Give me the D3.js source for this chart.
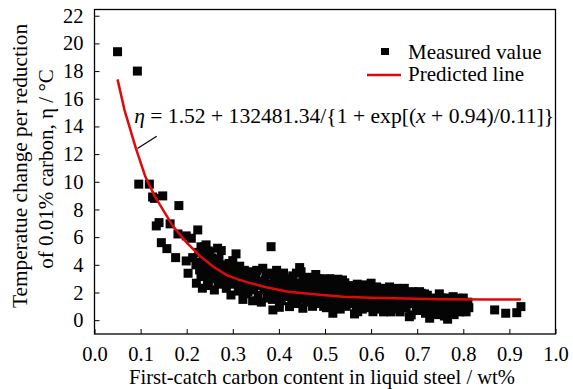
<!DOCTYPE html>
<html>
<head>
<meta charset="utf-8">
<script src="https://cdn.jsdelivr.net/npm/d3@7/dist/d3.min.js"></script>
<style>
  html, body { margin: 0; padding: 0; background: #fff; }
</style>
</head>
<body>
<svg id="chart" width="573" height="389"></svg>
<script>
// ---- data ----
const xTicks = [0.0, 0.1, 0.2, 0.3, 0.4, 0.5, 0.6, 0.7, 0.8, 0.9, 1.0];
const yTicks = [0, 2, 4, 6, 8, 10, 12, 14, 16, 18, 20, 22];
const xTitle = "First-catch carbon content in liquid steel / wt%";
const yTitle1 = "Temperatue change per reduction";
const yTitle2 = "of 0.01% carbon, η / °C";
const legendLabels = ["Measured value", "Predicted line"];

// predicted line
const predicted = [
  [0.050,17.4],[0.065,15.2],[0.090,12.4],[0.110,10.4],[0.130,9.0],[0.150,7.9],
  [0.170,6.8],[0.200,5.6],[0.230,4.6],[0.260,3.8],[0.290,3.2],[0.330,2.75],
  [0.370,2.4],[0.420,2.05],[0.488,1.83],[0.540,1.7],[0.600,1.62],[0.676,1.56],
  [0.750,1.52],[0.850,1.5],[0.925,1.49]
];

const measured = [
  [0.050,19.4],[0.093,18.0],[0.096,9.83],[0.119,9.83],[0.130,8.8],[0.148,8.98],[0.126,8.9],
  [0.183,8.28],[0.134,6.81],[0.140,7.05],[0.164,6.96],[0.181,6.23],[0.199,6.09],[0.210,5.92],
  [0.224,6.52],[0.145,5.6],[0.157,5.17],[0.176,4.52],[0.199,4.28],[0.203,3.39],[0.213,4.52],
  [0.231,5.3],[0.221,2.67],[0.234,2.31],[0.228,3.63],[0.231,3.15],[0.220,4.0],[0.226,4.9],
  [0.242,5.44],[0.239,5.3],[0.250,4.9],[0.255,4.5],[0.245,4.1],[0.240,3.7],[0.250,3.3],
  [0.245,2.9],[0.260,2.18],[0.258,3.9],[0.267,5.2],[0.275,5.03],[0.270,4.4],[0.265,3.5],
  [0.278,3.0],[0.286,2.3],[0.296,1.82],[0.285,4.0],[0.290,3.6],[0.300,4.3],[0.307,4.79],
  [0.295,2.8],[0.310,3.2],[0.315,3.9],[0.320,2.5],[0.325,3.6],[0.329,1.9],[0.333,2.06],
  [0.335,3.0],[0.340,3.5],[0.345,2.4],[0.350,3.2],[0.355,1.8],[0.360,2.8],[0.365,3.75],
  [0.368,2.2],[0.372,3.3],[0.375,1.6],[0.380,2.6],[0.383,5.31],[0.387,0.74],[0.390,3.0],
  [0.392,1.9],[0.395,3.6],[0.398,2.4],[0.401,0.93],[0.405,1.4],[0.408,2.8],[0.410,3.4],
  [0.413,1.7],[0.415,2.2],[0.418,3.0],[0.423,0.98],[0.425,2.5],[0.428,1.5],[0.430,3.2],
  [0.433,2.0],[0.436,2.7],[0.440,1.2],[0.445,3.8],[0.448,3.5],[0.450,2.3],[0.452,0.86],
  [0.455,1.7],[0.458,2.9],[0.460,1.3],[0.463,2.5],[0.466,3.1],[0.468,1.9],[0.470,2.2],
  [0.473,1.0],[0.475,2.7],[0.478,1.5],[0.480,3.3],[0.483,2.0],[0.486,2.5],[0.488,1.2],
  [0.490,3.0],[0.493,1.7],[0.495,2.9],[0.498,2.2],[0.500,1.4],[0.503,0.9],[0.505,2.6],
  [0.508,1.9],[0.510,3.0],[0.513,1.1],[0.517,0.5],[0.517,2.3],[0.520,1.6],[0.523,2.8],
  [0.526,1.3],[0.528,2.96],[0.530,2.0],[0.533,0.8],[0.536,2.4],[0.540,1.5],[0.543,2.7],
  [0.546,1.0],[0.550,2.2],[0.553,1.7],[0.556,2.5],[0.560,1.2],[0.564,0.45],[0.566,2.0],
  [0.570,2.6],[0.571,0.61],[0.574,1.5],[0.578,2.2],[0.582,2.55],[0.585,1.1],[0.588,1.8],
  [0.592,2.4],[0.595,0.9],[0.598,1.4],[0.600,2.67],[0.604,0.61],[0.607,2.0],[0.610,1.2],
  [0.614,1.7],[0.618,2.18],[0.621,0.8],[0.625,1.5],[0.628,2.3],[0.632,1.0],[0.636,1.9],
  [0.640,2.4],[0.643,0.6],[0.646,1.4],[0.650,2.0],[0.653,1.1],[0.657,1.7],[0.660,0.8],
  [0.664,2.2],[0.667,1.3],[0.669,2.23],[0.672,2.3],[0.676,0.9],[0.679,1.6],[0.683,0.25],
  [0.687,0.38],[0.690,2.06],[0.693,1.2],[0.697,1.8],[0.700,0.7],[0.705,2.06],[0.709,1.94],
  [0.712,1.0],[0.715,1.5],[0.718,0.5],[0.722,1.8],[0.725,1.2],[0.727,0.14],[0.730,0.8],
  [0.734,1.6],[0.738,1.0],[0.742,0.4],[0.745,1.4],[0.748,1.9],[0.752,0.7],[0.755,1.2],
  [0.759,0.3],[0.762,1.6],[0.766,0.07],[0.768,1.0],[0.772,1.3],[0.775,0.5],[0.778,1.7],
  [0.782,0.9],[0.785,1.2],[0.788,1.58],[0.792,0.6],[0.795,1.0],[0.798,1.4],[0.802,0.8],
  [0.806,0.6],[0.806,1.1],[0.810,1.3],[0.868,0.74],[0.892,0.5],[0.916,0.54],[0.925,0.98],
  [0.302,2.6],[0.312,2.1],[0.318,3.3],[0.322,1.5],[0.327,2.8],[0.338,2.2],[0.343,1.4],
  [0.348,2.9],[0.352,3.6],[0.358,2.5],[0.362,1.3],[0.370,2.9],[0.377,2.0],[0.382,3.4],
  [0.386,1.5],[0.394,2.7],[0.400,3.2],[0.403,2.0],[0.411,2.5],[0.420,1.9],[0.427,2.9],
  [0.432,1.3],[0.438,3.4],[0.442,2.4],[0.447,1.6],[0.453,3.0],[0.457,2.2],[0.462,1.8],
  [0.467,2.8],[0.472,1.5],[0.477,2.4],[0.482,3.0],[0.487,1.7],[0.492,2.3],[0.497,1.0],
  [0.502,2.8],[0.507,1.5],[0.512,2.4],[0.518,1.9],[0.522,1.0],[0.527,2.2],[0.532,1.7],
  [0.538,2.9],[0.542,1.2],[0.548,2.0],[0.552,1.3],[0.558,2.2],[0.562,1.6],[0.568,1.0],
  [0.572,2.3],[0.577,1.8],[0.581,0.8],[0.586,2.1],[0.591,1.4],[0.596,2.0],[0.602,1.6],
  [0.606,1.0],[0.612,2.4],[0.616,1.3],[0.623,1.9],[0.627,0.6],[0.631,1.5],[0.637,2.2],
  [0.641,1.2],[0.648,1.8],[0.655,2.3],[0.659,1.4],[0.663,0.6],[0.668,1.9],[0.674,1.2],
  [0.681,2.0],[0.685,1.3],[0.692,1.6],[0.698,1.0],[0.703,1.5],[0.710,1.3],[0.716,1.9],
  [0.720,1.1],[0.728,1.5],[0.733,0.5],[0.740,1.3],[0.747,0.9],[0.753,1.6],[0.760,1.0],
  [0.765,1.4],[0.770,0.7],[0.776,1.2],[0.780,0.4],[0.790,1.1],[0.800,1.6],[0.812,0.9],
  [0.232,4.2],[0.237,3.2],[0.247,2.5],[0.252,4.3],[0.262,3.0],[0.268,2.6],[0.272,3.8],
  [0.280,3.4],[0.283,2.7],[0.292,4.1],[0.298,3.3],[0.305,3.7],[0.247,5.0],[0.236,4.7]
];

// ---- layout ----
const FONT = '"Liberation Serif", "DejaVu Serif", "Times New Roman", serif';
const svg = d3.select("#chart");
const mLeft = 94.5, mRight = 555.5, mTop = 9.5, mBottom = 334;
const x = d3.scaleLinear().domain([0, 1]).range([mLeft, mRight]);
const y = d3.scaleLinear().domain([-1, 22.45]).range([mBottom, mTop]);

// markers
const ms = 9;
svg.append("g").selectAll("rect").data(measured).join("rect")
  .attr("x", d => x(d[0]) - ms / 2)
  .attr("y", d => y(d[1]) - ms / 2)
  .attr("width", ms).attr("height", ms)
  .attr("fill", "#050505");

// predicted line
svg.append("path").datum(predicted)
  .attr("fill", "none").attr("stroke", "#dd0a0a").attr("stroke-width", 2.5)
  .attr("d", d3.line().x(d => x(d[0])).y(d => y(d[1])));

// axes (inward ticks)
const tickFont = 20.5;
const gx = svg.append("g").attr("transform", `translate(0,${mBottom})`)
  .call(d3.axisBottom(x).tickValues(xTicks).tickFormat(d3.format(".1f")).tickSizeInner(-5).tickSizeOuter(0).tickPadding(12));
const gy = svg.append("g").attr("transform", `translate(${mLeft},0)`)
  .call(d3.axisLeft(y).tickValues(yTicks).tickFormat(d3.format("d")).tickSizeInner(-5).tickSizeOuter(0).tickPadding(11));
[gx, gy].forEach(g => {
  g.attr("font-family", FONT).attr("font-size", tickFont);
  g.select(".domain").remove();
  g.selectAll(".tick line").attr("stroke", "#000").attr("stroke-width", 1);
  g.selectAll(".tick text").attr("fill", "#000");
});
gx.selectAll(".tick text").attr("dy", "0.75em");

// frame
svg.append("rect").attr("x", mLeft).attr("y", mTop)
  .attr("width", mRight - mLeft).attr("height", mBottom - mTop)
  .attr("fill", "none").attr("stroke", "#000").attr("stroke-width", 1.3);

const txt = (sel) => sel.attr("font-family", FONT).attr("fill", "#000");

// axis titles
svg.append("text").call(txt).attr("x", (mLeft + mRight) / 2 - 3).attr("y", 384)
  .attr("text-anchor", "middle").attr("font-size", 20.6).text(xTitle);
svg.append("text").call(txt).attr("transform", "translate(27,166) rotate(-90)")
  .attr("text-anchor", "middle").attr("font-size", 21.3).text(yTitle1);
svg.append("text").call(txt).attr("transform", "translate(53,169) rotate(-90)")
  .attr("text-anchor", "middle").attr("font-size", 21).text(yTitle2);

// legend
const lg = svg.append("g");
lg.append("rect").attr("x", 381).attr("y", 48).attr("width", 8).attr("height", 7).attr("fill", "#050505");
lg.append("text").call(txt).attr("x", 408).attr("y", 59).attr("font-size", 21).text(legendLabels[0]);
lg.append("line").attr("x1", 367).attr("x2", 401).attr("y1", 75).attr("y2", 75)
  .attr("stroke", "#dd0a0a").attr("stroke-width", 2.5);
lg.append("text").call(txt).attr("x", 408).attr("y", 81).attr("font-size", 21).text(legendLabels[1]);

// equation annotation with leader line
svg.append("line")
  .attr("x1", x(0.093)).attr("y1", y(12.4))
  .attr("x2", x(0.135)).attr("y2", y(13.29))
  .attr("stroke", "#000").attr("stroke-width", 1.2);
const eq = svg.append("text").call(txt).attr("x", x(0.086)).attr("y", y(14.25)).attr("font-size", 21.6);
eq.append("tspan").attr("font-style", "italic").text("η");
eq.append("tspan").text(" = 1.52 + 132481.34/{1 + exp[(");
eq.append("tspan").attr("font-style", "italic").text("x");
eq.append("tspan").text(" + 0.94)/0.11]}");
</script>
</body>
</html>
